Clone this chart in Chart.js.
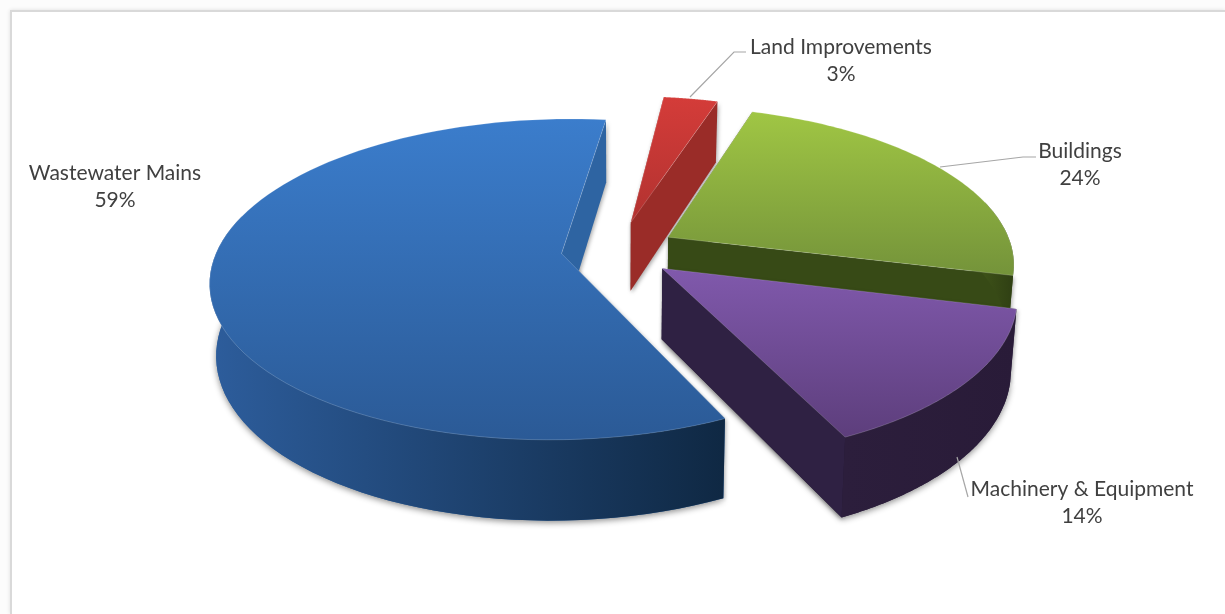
<!DOCTYPE html>
<html lang="en">
<head>
    <meta charset="UTF-8">
    <title>Asset Value by Class</title>
    <script src="https://cdnjs.cloudflare.com/ajax/libs/Chart.js/4.4.1/chart.umd.js"></script>
    <style>
        html, body {
            margin: 0;
            padding: 0;
            background: #fcfcfc;
            overflow: hidden;
        }
        #frame {
            position: absolute;
            left: 10px;
            top: 10px;
            width: 1215px;
            height: 604px;
            background: #fff;
            border-top: 2px solid #d9d9d9;
            border-left: 2px solid #d9d9d9;
            box-shadow: 0 0 4px rgba(0,0,0,0.12);
            box-sizing: border-box;
        }
        #pie {
            position: absolute;
            left: 0;
            top: 0;
        }
    </style>
</head>
<body>
    <div id="frame"></div>
    <canvas id="pie" width="1225" height="614"></canvas>
    <script>
        const categories = ['Wastewater Mains', 'Land Improvements', 'Buildings', 'Machinery & Equipment'];
        const shares = [59, 3, 24, 14];
        const baseColors = ['#3a7ccb', '#d23b38', '#9fc442', '#7f59ab'];
        const explode = [63, 67, 50, 50];

        // small screen shift per slice on top of the explode distance
        const nudgeX = [-1, -8, 0, -2];
        const nudgeY = [-2, 0, -3, 3];

        // face colours per slice: top face from/to, cut wall, rim wall left/right
        const topFrom = ['#3b7dcc', '#d43c39', '#a0c644', '#8059ac'];
        const topTo = ['#2b5a96', '#b23230', '#74933a', '#5d3e7c'];
        const cutWall = ['#2e64a2', '#9a2c28', '#374a16', '#2f2143'];
        const rimFrom = ['#2d5d9c', '#9a2c28', '#3c5018', '#2c1e3c'];
        const rimTo = ['#0f2843', '#7e2320', '#2f3f13', '#291b38'];

        // label boxes and leader lines, in page pixels
        const labelCenters = [[115, 173], [841, 47], [1080, 151], [1082, 489]];
        const leaders = [
            null,
            [[690, 97], [734, 52], [746, 52]],
            [[940, 167], [1023, 157], [1036, 157]],
            [[957, 457], [968, 497]]
        ];

        // camera for the tilted disc
        const tilt = 0.45;
        const perspective = 0.16;
        const thickness = 70;
        const depthShrink = 0.016;
        const drawOrder = [1, 2, 0, 3];

        function project(el, u, v, z) {
            const s = 1 / (1 - perspective * v);
            return {
                x: el.x + el.outerRadius * u * s * (1 - depthShrink * z),
                y: el.y + el.outerRadius * tilt * v * s + thickness * z * Math.pow(s, 0.8)
            };
        }

        function trace(ctx, pts) {
            ctx.beginPath();
            pts.forEach((p, i) => i ? ctx.lineTo(p.x, p.y) : ctx.moveTo(p.x, p.y));
            ctx.closePath();
        }

        function drawSlice(ctx, el, i) {
            const off = el.options.offset / el.outerRadius;
            const mid = (el.startAngle + el.endAngle) / 2;
            const ou = Math.cos(mid) * off;
            const ov = Math.sin(mid) * off;
            const rimAt = (a, z) => project(el, ou + Math.cos(a), ov + Math.sin(a), z);
            const tipAt = z => project(el, ou, ov, z);

            const steps = 90;
            const angles = [];
            for (let k = 0; k <= steps; k++) {
                angles.push(el.startAngle + (el.endAngle - el.startAngle) * k / steps);
            }
            const top = [tipAt(0)].concat(angles.map(a => rimAt(a, 0)));
            const front = angles.filter(a => Math.sin(a) > -0.25);

            ctx.save();
            ctx.translate(nudgeX[i], nudgeY[i]);

            // soft shadow under the whole solid
            ctx.save();
            ctx.shadowColor = 'rgba(0,0,0,0.45)';
            ctx.shadowBlur = 6;
            ctx.shadowOffsetX = 0;
            ctx.shadowOffsetY = 2;
            ctx.fillStyle = cutWall[i];
            trace(ctx, [tipAt(1)].concat(front.map(a => rimAt(a, 1))));
            ctx.fill();
            ctx.restore();

            // the two cut faces, hidden one first
            [el.startAngle, el.endAngle].forEach(a => {
                ctx.save();
                ctx.shadowColor = 'rgba(0,0,0,0.35)';
                ctx.shadowBlur = 4;
                ctx.shadowOffsetX = 1;
                ctx.shadowOffsetY = 2;
                ctx.fillStyle = cutWall[i];
                trace(ctx, [tipAt(0), rimAt(a, 0), rimAt(a, 1), tipAt(1)]);
                ctx.fill();
                ctx.restore();
            });

            // curved outer wall, only the part facing the viewer
            if (front.length > 1) {
                const xs = front.map(a => rimAt(a, 0).x);
                const grad = ctx.createLinearGradient(Math.min(...xs), 0, Math.max(...xs), 0);
                grad.addColorStop(0, rimFrom[i]);
                grad.addColorStop(1, rimTo[i]);
                ctx.fillStyle = grad;
                trace(ctx, front.map(a => rimAt(a, 0)).concat(front.slice().reverse().map(a => rimAt(a, 1))));
                ctx.fill();
            }

            // top face
            const ys = top.map(p => p.y);
            const grad = ctx.createLinearGradient(0, Math.min(...ys), 0, Math.max(...ys));
            grad.addColorStop(0, topFrom[i]);
            grad.addColorStop(1, topTo[i]);
            ctx.fillStyle = grad;
            trace(ctx, top);
            ctx.fill();
            ctx.strokeStyle = 'rgba(255,255,255,0.18)';
            ctx.lineWidth = 1;
            ctx.stroke();
            ctx.restore();
        }

        const solidPie = {
            id: 'solidPie',
            beforeDatasetDraw(chart, args) {
                const ctx = chart.ctx;
                const arcs = args.meta.data;
                ctx.save();
                drawOrder.forEach(i => drawSlice(ctx, arcs[i], i));
                ctx.restore();
                return false;
            },
            afterDraw(chart) {
                const ctx = chart.ctx;
                const total = shares.reduce((a, b) => a + b, 0);
                ctx.save();
                ctx.strokeStyle = '#a6a6a6';
                ctx.lineWidth = 1.2;
                leaders.forEach(line => {
                    if (!line) return;
                    ctx.beginPath();
                    line.forEach((p, i) => i ? ctx.lineTo(p[0], p[1]) : ctx.moveTo(p[0], p[1]));
                    ctx.stroke();
                });
                ctx.fillStyle = '#404040';
                ctx.font = '21px Lato, "Open Sans", sans-serif';
                ctx.textAlign = 'center';
                ctx.textBaseline = 'middle';
                categories.forEach((name, i) => {
                    const [x, y] = labelCenters[i];
                    ctx.fillText(name, x, y);
                    ctx.fillText(Math.round(shares[i] / total * 100) + '%', x, y + 27);
                });
                ctx.restore();
            }
        };

        new Chart(document.getElementById('pie'), {
            type: 'pie',
            data: {
                labels: categories,
                datasets: [{
                    data: shares,
                    backgroundColor: baseColors,
                    offset: explode,
                    borderWidth: 0
                }]
            },
            options: {
                responsive: false,
                animation: false,
                rotation: 154.5,
                radius: 344,
                layout: { padding: { left: 25, bottom: 112 } },
                plugins: {
                    legend: { display: false },
                    tooltip: { enabled: false }
                }
            },
            plugins: [solidPie]
        });
    </script>
</body>
</html>
